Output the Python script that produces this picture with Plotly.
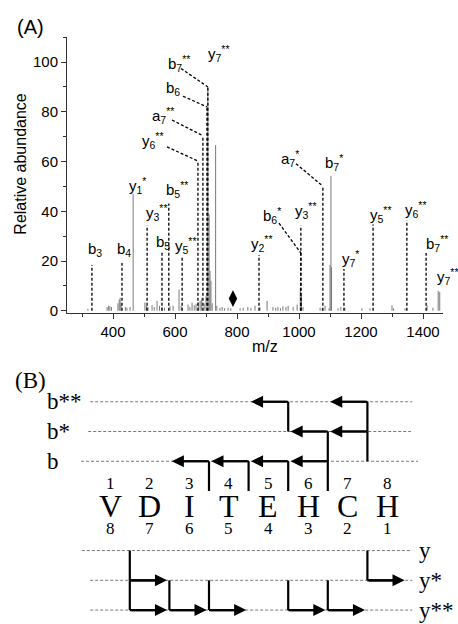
import plotly.graph_objects as go

W, H = 458, 624

# ---------------- Panel A data : MS/MS spectrum ----------------
stick_mz = [319, 381, 386, 390, 395, 416, 420, 423, 426, 440,
            445, 455, 465, 503, 508, 513, 526, 533, 542, 550,
            558, 566, 584, 594, 613, 620, 642, 648, 655, 662,
            668, 675, 681, 686, 694, 700, 706, 710, 713, 716,
            720, 731, 735, 745, 752, 760, 771, 780, 810, 820,
            835, 845, 858, 874, 897, 916, 925, 932, 940, 948,
            958, 965, 981, 994, 1004, 1008, 1013, 1068, 1075, 1084,
            1097, 1100, 1103, 1105, 1126, 1135, 1148, 1203, 1229, 1300,
            1305, 1342, 1413, 1432, 1449, 1454]
stick_int = [0.8, 1.5, 2.0, 1.8, 1.5, 3.0, 4.5, 5.2, 3.0, 1.5,
             1.2, 1.5, 47.0, 3.3, 2.0, 1.5, 2.2, 1.5, 4.0, 2.0,
             1.5, 1.2, 1.8, 2.0, 8.5, 2.0, 2.5, 1.5, 3.3, 2.2,
             2.8, 3.5, 4.0, 5.0, 3.0, 6.0, 90.0, 38.7, 16.0, 12.0,
             3.0, 66.6, 2.0, 1.2, 1.5, 1.0, 1.2, 1.0, 1.0, 1.2,
             1.5, 1.2, 2.0, 1.5, 4.0, 1.5, 1.2, 1.5, 1.0, 1.8,
             1.5, 2.0, 1.5, 2.5, 9.0, 6.5, 1.5, 1.2, 1.0, 2.0,
             1.0, 18.4, 54.2, 17.5, 1.0, 1.5, 1.2, 1.0, 1.0, 2.2,
             1.0, 1.0, 2.2, 1.2, 8.0, 7.5]

# assigned fragment peaks drawn with dashed markers
dash_mz = [332, 429, 510, 558, 580, 623, 674, 690, 703, 706,
           871, 1006, 1006, 1077, 1145, 1239, 1348, 1410]
dash_int = [18.4, 19.2, 34.3, 23.6, 43.1, 22.0, 60.2, 70.4, 82.0, 90.0,
            22.4, 23.2, 34.3, 50.1, 16.8, 34.7, 36.3, 23.2]

label_text = ["b<sub>3</sub>", "b<sub>4</sub>", "y<sub>1</sub><sup>*</sup>",
              "y<sub>3</sub><sup>**</sup>", "b<sub>5</sub>", "b<sub>5</sub><sup>**</sup>",
              "y<sub>5</sub><sup>**</sup>", "y<sub>6</sub><sup>**</sup>", "a<sub>7</sub><sup>**</sup>",
              "b<sub>6</sub>", "b<sub>7</sub><sup>**</sup>", "y<sub>7</sub><sup>**</sup>",
              "y<sub>2</sub><sup>**</sup>", "b<sub>6</sub><sup>*</sup>", "y<sub>3</sub><sup>**</sup>",
              "a<sub>7</sub><sup>*</sup>", "b<sub>7</sub><sup>*</sup>", "y<sub>7</sub><sup>*</sup>",
              "y<sub>5</sub><sup>**</sup>", "y<sub>6</sub><sup>**</sup>", "b<sub>7</sub><sup>**</sup>",
              "y<sub>7</sub><sup>**</sup>"]
label_mz = [332, 429, 465, 510, 558, 580, 623, 674, 690, 703, 706, 706,
            871, 1006, 1006, 1077, 1103, 1145, 1239, 1348, 1410, 1452]
label_int = [18.4, 19.2, 47.0, 34.3, 23.6, 43.1, 22.0, 60.2, 70.4, 82.0, 90.0, 90.0,
             22.4, 23.2, 34.3, 50.1, 54.2, 16.8, 34.7, 36.3, 23.2, 8.0]

marker_mz = [787]
marker_int = [4.9]

x_ticks = [400, 600, 800, 1000, 1200, 1400]
y_ticks = [0, 20, 40, 60, 80, 100]

# ---------------- Panel B data : fragmentation map ----------------
residues = ["V", "D", "I", "T", "E", "H", "C", "H"]
b_ions = [("b**", 5), ("b**", 7), ("b*", 6), ("b*", 7),
          ("b", 3), ("b", 4), ("b", 5), ("b", 6)]
y_ions = [("y*", 1), ("y*", 7), ("y**", 2), ("y**", 3),
          ("y**", 5), ("y**", 6), ("y**", 7)]

# ---------------- layout / style constants ----------------
XA_DOM = (67 / W, 443 / W)
XA_RNG = (251.6, 1464.5)
YA_DOM = (1 - 316 / H, 1 - 37 / H)
YA_RNG = (-1.1, 110.2)

# label centres (page pixels) and dashed-connector start points
LABEL_XY = [(95, 252), (124, 252), (137, 187), (157, 214), (163, 244), (177, 191),
            (186, 247), (153, 142), (163, 116), (173, 89), (179, 64), (219, 54),
            (262, 245), (272, 217), (306, 212), (290, 160), (334, 164), (350, 261),
            (381, 216), (416, 211), (437, 245), (448, 279)]
CONNECT = {7: (167, 148), 8: (172, 121), 9: (183, 97), 10: (181, 69),
           13: (279, 225), 15: (296, 165)}

# panel B: x2 in residue-index units, y2 in pixel rows
X2_RNG = (1 - 110 / 39.6, 1 + (W - 110) / 39.6)
Y2_DOM = (0, 1 - 349.44 / H)
Y2_RNG = (H, 349.44)
ROW_Y = {"b**": 405, "b*": 435, "b": 465, "y": 555, "y*": 585, "y**": 615}
ROW_EXT = {"b**": (0.5, 8.63), "b*": (0.45, 8.6), "b": (0.27, 8.78),
           "y": (0.29, 8.63), "y*": (0.5, 8.63), "y**": (0.5, 8.63)}
NEXT_BELOW = {"b**": ROW_Y["b*"], "b*": ROW_Y["b"], "b": 495}
NEXT_ABOVE = {"y**": ROW_Y["y*"], "y*": ROW_Y["y"]}
ARROW_LEN = 0.94
SERIF = "Liberation Serif, Times New Roman, serif"
SANS = "Liberation Sans, Arial, sans-serif"


def px2mz(px):
    f = (px / W - XA_DOM[0]) / (XA_DOM[1] - XA_DOM[0])
    return XA_RNG[0] + f * (XA_RNG[1] - XA_RNG[0])


def py2val(py):
    f = ((1 - py / H) - YA_DOM[0]) / (YA_DOM[1] - YA_DOM[0])
    return YA_RNG[0] + f * (YA_RNG[1] - YA_RNG[0])


def px2idx(px):
    return X2_RNG[0] + px / W * (X2_RNG[1] - X2_RNG[0])


fig = go.Figure()

# gray stick spectrum
sx, sy = [], []
for m, v in zip(stick_mz, stick_int):
    sx += [m, m, None]
    sy += [0, v, None]
fig.add_trace(go.Scatter(x=sx, y=sy, mode="lines", line=dict(color="#7a7a7a", width=1),
                         hoverinfo="skip", xaxis="x", yaxis="y"))

# dashed assignment lines
dx, dy = [], []
for m, v in zip(dash_mz, dash_int):
    dx += [m, m, None]
    dy += [0, v, None]
# dashed connectors from labels to peak tops
for i, (cx, cy) in CONNECT.items():
    dx += [px2mz(cx), label_mz[i], None]
    dy += [py2val(cy), label_int[i], None]
fig.add_trace(go.Scatter(x=dx, y=dy, mode="lines",
                         line=dict(color="black", width=1.3, dash="3px,2px"),
                         hoverinfo="skip", xaxis="x", yaxis="y"))

fig.add_trace(go.Scatter(x=marker_mz, y=marker_int, mode="markers",
                         marker=dict(symbol="diamond-tall", size=12, color="black"),
                         hoverinfo="skip", xaxis="x", yaxis="y"))

annotations = []
for i, t in enumerate(label_text):
    lx, ly = LABEL_XY[i]
    annotations.append(dict(x=lx / W, y=1 - ly / H, xref="paper", yref="paper", text=t,
                            showarrow=False, font=dict(family=SANS, size=15, color="black"),
                            xanchor="center", yanchor="middle"))

annotations += [
    dict(x=30 / W, y=1 - 27 / H, xref="paper", yref="paper", text="(A)", showarrow=False,
         xanchor="center", yanchor="middle",
         font=dict(family=SANS, size=20, color="black")),
    dict(x=265 / W, y=1 - 349 / H, xref="paper", yref="paper", text="m/z", showarrow=False,
         xanchor="center", yanchor="middle",
         font=dict(family=SANS, size=16, color="black")),
    dict(x=21 / W, y=1 - 165 / H, xref="paper", yref="paper", text="Relative abundance",
         textangle=-90, showarrow=False, xanchor="center", yanchor="middle",
         font=dict(family=SANS, size=16, color="black")),
    dict(x=30 / W, y=1 - 384 / H, xref="paper", yref="paper", text="(B)", showarrow=False,
         xanchor="center", yanchor="middle",
         font=dict(family=SERIF, size=23, color="black")),
]

# ---------------- Panel B drawing ----------------
# row guide lines
gx, gy = [], []
for r, yv in ROW_Y.items():
    x0, x1 = ROW_EXT[r]
    gx += [x0, x1, None]
    gy += [yv, yv, None]
fig.add_trace(go.Scatter(x=gx, y=gy, mode="lines",
                         line=dict(color="#555555", width=0.8, dash="3px,2px"),
                         hoverinfo="skip", xaxis="x2", yaxis="y2"))

# fragment arrows
ax_, ay_ = [], []
for r, n in b_ions:
    xb = n + 0.5
    yv = ROW_Y[r]
    tip = xb - ARROW_LEN
    ax_ += [xb, xb, None, xb, tip + 0.1, None]
    ay_ += [NEXT_BELOW[r], yv, None, yv, yv, None]
    annotations.append(dict(x=tip, y=yv, ax=xb, ay=yv, xref="x2", yref="y2",
                            axref="x2", ayref="y2", text="", showarrow=True,
                            arrowhead=2, arrowsize=1.1, arrowwidth=2.2, arrowcolor="black",
                            standoff=0, startstandoff=0))
for r, n in y_ions:
    xb = len(residues) - n + 0.5
    yv = ROW_Y[r]
    tip = xb + ARROW_LEN
    ax_ += [xb, xb, None, xb, tip - 0.1, None]
    ay_ += [NEXT_ABOVE[r], yv, None, yv, yv, None]
    annotations.append(dict(x=tip, y=yv, ax=xb, ay=yv, xref="x2", yref="y2",
                            axref="x2", ayref="y2", text="", showarrow=True,
                            arrowhead=2, arrowsize=1.1, arrowwidth=2.2, arrowcolor="black",
                            standoff=0, startstandoff=0))
fig.add_trace(go.Scatter(x=ax_, y=ay_, mode="lines", line=dict(color="black", width=2.2),
                         hoverinfo="skip", xaxis="x2", yaxis="y2"))

# sequence with numbering
n_res = len(residues)
for i, aa in enumerate(residues, start=1):
    annotations.append(dict(x=i, y=510, xref="x2", yref="y2", text=aa, showarrow=False,
                            font=dict(family=SERIF, size=32, color="black")))
    annotations.append(dict(x=i, y=487, xref="x2", yref="y2", text=str(i), showarrow=False,
                            font=dict(family=SERIF, size=17, color="black")))
    annotations.append(dict(x=i, y=533, xref="x2", yref="y2", text=str(n_res + 1 - i),
                            showarrow=False, font=dict(family=SERIF, size=17, color="black")))

# row labels
for r in ["b**", "b*", "b"]:
    annotations.append(dict(x=px2idx(45), y=ROW_Y[r], xref="x2", yref="y2", text=r,
                            showarrow=False, xanchor="left",
                            font=dict(family=SERIF, size=23, color="black")))
for r in ["y", "y*", "y**"]:
    annotations.append(dict(x=px2idx(417), y=ROW_Y[r], xref="x2", yref="y2", text=r,
                            showarrow=False, xanchor="left",
                            font=dict(family=SERIF, size=23, color="black")))

fig.update_layout(
    width=W, height=H, margin=dict(l=0, r=0, t=0, b=0),
    paper_bgcolor="white", plot_bgcolor="white", showlegend=False,
    annotations=annotations,
    xaxis=dict(domain=list(XA_DOM), range=list(XA_RNG), anchor="y",
               tickvals=x_ticks, ticks="outside", ticklen=5, tickwidth=1, tickcolor="#333",
               showline=True, linecolor="#333", linewidth=1, showgrid=False, zeroline=False,
               tickfont=dict(family=SANS, size=15, color="black"),
               minor=dict(dtick=100, tick0=0, ticks="outside", ticklen=3, tickcolor="#333",
                          showgrid=False)),
    yaxis=dict(domain=list(YA_DOM), range=list(YA_RNG), anchor="x",
               tickvals=y_ticks, ticks="outside", ticklen=5, tickwidth=1, tickcolor="#333",
               showline=True, linecolor="#333", linewidth=1, showgrid=False, zeroline=False,
               tickfont=dict(family=SANS, size=15, color="black"),
               minor=dict(dtick=10, tick0=0, ticks="outside", ticklen=3, tickcolor="#333",
                          showgrid=False)),
    xaxis2=dict(domain=[0, 1], range=list(X2_RNG), anchor="y2", visible=False),
    yaxis2=dict(domain=list(Y2_DOM), range=list(Y2_RNG), anchor="x2", visible=False),
)

fig.write_html("out.html", config={"displayModeBar": False},
               post_script="document.body.style.margin='0';")
